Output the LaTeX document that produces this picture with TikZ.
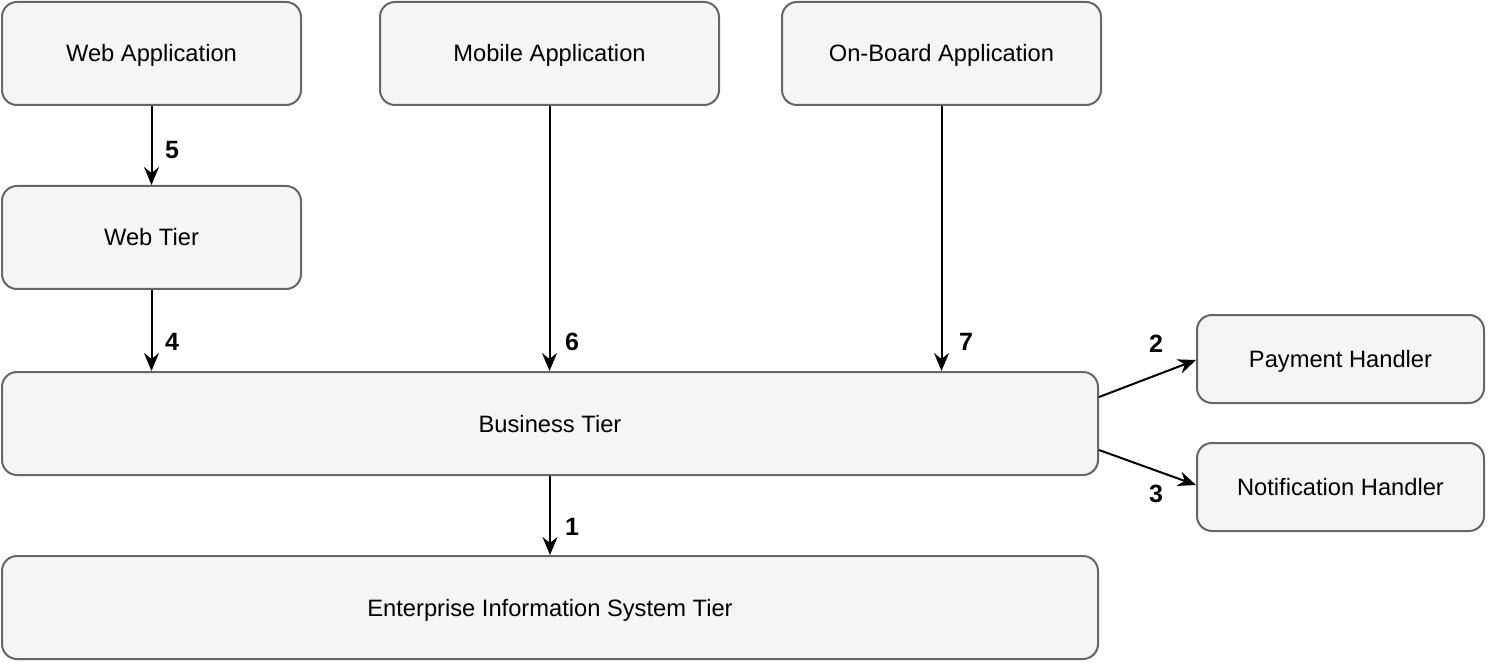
\documentclass[tikz,border=0pt]{standalone}
\usepackage{fontspec}
\setmainfont{Liberation Sans}
\usetikzlibrary{arrows.meta}

\begin{document}
\begin{tikzpicture}[x=0.5pt,y=-0.5pt, inner sep=0mm, >={Stealth[length=9pt,width=7.5pt,inset=3pt]}]
\tikzset{
  tier/.style={rectangle,rounded corners=7.5pt,draw=black!60,fill=black!4,line width=1pt,
    text height=8.5pt,text depth=0pt,font=\fontsize{11.85}{14}\selectfont},
  num/.style={font=\fontsize{12.5}{14}\selectfont\bfseries},
  flow/.style={->,line width=1pt}
}
\useasboundingbox (0,0) rectangle (1488,663);
\node (wapp) at (151.5,53.5) [tier,minimum width=149.5pt,minimum height=51.5pt] {Web Application};
\node (mapp) at (549.5,53.5) [tier,minimum width=169.5pt,minimum height=51.5pt] {Mobile Application};
\node (oapp) at (941.5,53.5) [tier,minimum width=159.5pt,minimum height=51.5pt] {On-Board Application};
\node (wtier) at (151.5,237.5) [tier,minimum width=149.5pt,minimum height=51.5pt] {Web Tier};
\node (biz) at (550,423.5) [tier,minimum width=548pt,minimum height=51.5pt] {Business Tier};
\node (eis) at (550,607.5) [tier,minimum width=548pt,minimum height=51.5pt] {Enterprise Information System Tier};
\node (pay) at (1340.5,359) [tier,minimum width=143.5pt,minimum height=44pt] {Payment Handler};
\node (note) at (1340.5,487) [tier,minimum width=143.5pt,minimum height=44pt] {Notification Handler};
\node (l5) at (172,150) [num] {5};
\node (l4) at (172,342) [num] {4};
\node (l6) at (572,342) [num] {6};
\node (l7) at (966,342) [num] {7};
\node (l1) at (572,527) [num] {1};
\node (l2) at (1156,344) [num] {2};
\node (l3) at (1156,494) [num] {3};
\draw[flow] (wapp) -- (wtier);
\draw[flow] (wtier.south) -- (wtier.south |- biz.north);
\draw[flow] (mapp.south) -- (mapp.south |- biz.north);
\draw[flow] (oapp.south) -- (oapp.south |- biz.north);
\draw[flow] (biz.south) -- (eis.north);
\draw[flow] ([yshift=13.25pt]biz.east) -- ([yshift=-0.5pt]pay.west);
\draw[flow] ([yshift=-13.25pt]biz.east) -- ([yshift=1pt]note.west);
\end{tikzpicture}
\end{document}
